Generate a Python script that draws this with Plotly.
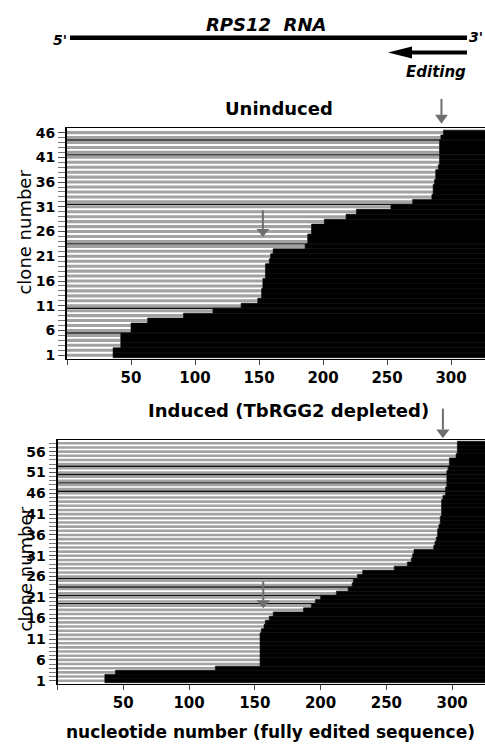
import plotly.graph_objects as go

# Uninduced clones (clone 1 at bottom): nucleotide where fully edited sequence begins
uninduced_clones = list(range(1, 47))
uninduced_edit = [36, 36, 42, 42, 42, 50, 50, 63, 91, 114,
                  136, 149, 152, 152, 153, 153, 155, 155, 155, 158,
                  159, 161, 186, 188, 188, 191, 191, 201, 218, 226,
                  253, 270, 285, 286, 286, 287, 288, 288, 290, 291,
                  291, 291, 291, 291, 292, 294]
uninduced_dark = [5.5, 10.5, 23.5, 31.5, 41.5, 44.5]

# Induced (TbRGG2 depleted) clones
induced_clones = list(range(1, 59))
induced_edit = [36, 36, 44, 120, 154, 154, 154, 154, 154, 154,
                154, 154, 155, 157, 158, 161, 164, 187, 193, 196,
                200, 212, 221, 224, 225, 228, 232, 256, 266, 269,
                270, 271, 286, 287, 288, 289, 289, 290, 291, 291,
                292, 292, 292, 292, 293, 295, 295, 296, 296, 296,
                296, 297, 298, 298, 303, 304, 304, 304]
induced_dark = [19.5, 21.5, 23.5, 25.5, 46.5, 48.5, 50.5, 52.5]

seq_end = 330
x_ticks = [0, 50, 100, 150, 200, 250, 300]
x_ticktext = ["", "50", "100", "150", "200", "250", "300"]
top_yticks = [1, 6, 11, 16, 21, 26, 31, 36, 41, 46]
bot_yticks = [1, 6, 11, 16, 21, 26, 31, 36, 41, 46, 51, 56]

W, H = 485, 750
def px(x):
    return x / W
def py(y):
    return 1 - y / H

GRAY = "#a2a2a2"
ARROW = "#6e6e6e"
FONT = "DejaVu Sans"

fig = go.Figure()

panels = [
    (uninduced_clones, uninduced_edit, "x", "y"),
    (induced_clones, induced_edit, "x2", "y2"),
]
for clones, edit, xa, ya in panels:
    fig.add_trace(go.Bar(orientation="h", y=clones, x=edit, base=0, width=0.62,
                         marker=dict(color=GRAY, line=dict(width=0)),
                         xaxis=xa, yaxis=ya, showlegend=False))
    fig.add_trace(go.Bar(orientation="h", y=clones, x=[seq_end - e for e in edit],
                         base=edit, width=1.0,
                         marker=dict(color="black", line=dict(color="black", width=0.6)),
                         xaxis=xa, yaxis=ya, showlegend=False))

shapes = []
for b in uninduced_dark:
    shapes.append(dict(type="line", xref="x domain", yref="y", x0=0, x1=1, y0=b, y1=b,
                       line=dict(color="#111", width=1.4)))
for b in induced_dark:
    shapes.append(dict(type="line", xref="x2 domain", yref="y2", x0=0, x1=1, y0=b, y1=b,
                       line=dict(color="#111", width=1.4)))

# header: RNA line and editing arrow
shapes.append(dict(type="line", xref="paper", yref="paper", x0=px(70), x1=px(467),
                   y0=py(35), y1=py(35), line=dict(color="black", width=4.5)))
shapes.append(dict(type="line", xref="paper", yref="paper", x0=px(408), x1=px(467),
                   y0=py(50), y1=py(50), line=dict(color="black", width=4)))
shapes.append(dict(type="path", xref="paper", yref="paper",
                   path=f"M {px(388)},{py(50)} L {px(412)},{py(44)} L {px(412)},{py(56)} Z",
                   fillcolor="black", line=dict(width=0)))

# gray arrows (shaft + head)
def arrow(xref, yref, x, y_top, y_head, y_tip, hw):
    shapes.append(dict(type="line", xref=xref, yref=yref, x0=x, x1=x, y0=y_top, y1=y_head,
                       line=dict(color=ARROW, width=2)))
    shapes.append(dict(type="path", xref=xref, yref=yref,
                       path=f"M {x - hw},{y_head} L {x + hw},{y_head} L {x},{y_tip} Z",
                       fillcolor=ARROW, line=dict(width=0)))

arrow("x", "paper", 292.5, py(97), py(113), py(122), 5)
arrow("x", "y", 153, 30.3, 26.5, 24.9, 5)
arrow("x2", "paper", 293, py(410), py(431), py(440), 5)
arrow("x2", "y2", 156.4, 24.9, 20.3, 18.4, 5)

ann = [
    dict(text="RPS12\u00a0\u00a0RNA", x=px(266), y=py(21.5),
         font=dict(size=18, family=FONT, weight="bold", style="italic")),
    dict(text="5'", x=px(60), y=py(37), font=dict(size=14, family=FONT, weight="bold", style="italic")),
    dict(text="3'", x=px(476), y=py(34), font=dict(size=14, family=FONT, weight="bold", style="italic")),
    dict(text="Editing", x=px(436), y=py(70), font=dict(size=15, family=FONT, weight="bold", style="italic")),
    dict(text="Uninduced", x=px(279), y=py(106.5), font=dict(size=18, family=FONT, weight="bold")),
    dict(text="Induced (TbRGG2 depleted)", x=px(288), y=py(412), font=dict(size=18, family=FONT, weight="bold")),
    dict(text="clone number", x=px(24.5), y=py(231.5), textangle=-90, font=dict(size=18, family=FONT)),
    dict(text="clone number", x=px(25), y=py(572.5), textangle=-90, font=dict(size=18, family=FONT)),
    dict(text="nucleotide number (fully edited sequence)", x=px(270), y=py(737),
         font=dict(size=17, family=FONT, weight="bold")),
]
for a in ann:
    a.update(xref="paper", yref="paper", showarrow=False, xanchor="center", yanchor="middle")
    a["font"]["color"] = "black"

tickfont = dict(size=14, family=FONT, weight="bold", color="black")
xaxis_common = dict(tickvals=x_ticks, ticktext=x_ticktext, showgrid=False, zeroline=False,
                    showline=True, linecolor="black", linewidth=1, mirror=True,
                    ticks="outside", ticklen=5, tickcolor="#444",
                    tickfont=dict(size=15, family=FONT, weight="bold", color="black"))

def yaxis_common(ticks, n):
    return dict(tickvals=ticks, showgrid=False, zeroline=False, showline=True,
                linecolor="black", linewidth=2, ticks="outside", ticklen=7,
                tickcolor="#555", tickfont=tickfont,
                minor=dict(tickmode="array", tickvals=list(range(1, n + 1)),
                           ticks="outside", ticklen=7, tickcolor="#777"))

fig.update_layout(
    width=W, height=H, autosize=False,
    margin=dict(l=0, r=0, t=0, b=0),
    paper_bgcolor="white", plot_bgcolor="white",
    barmode="overlay",
    xaxis=dict(domain=[px(67), 1], range=[0, 326.5], anchor="y", **xaxis_common),
    yaxis=dict(domain=[py(360), py(126)], range=[0.2, 47], anchor="x",
               **yaxis_common(top_yticks, 46)),
    xaxis2=dict(domain=[px(57.5), 1], range=[0, 325], anchor="y2", **xaxis_common),
    yaxis2=dict(domain=[py(688), py(441.7)], range=[0.29, 58.8], anchor="x2",
                **yaxis_common(bot_yticks, 58)),
    shapes=shapes,
    annotations=ann,
)

fig.write_html("out.html", config={"displayModeBar": False},
               post_script="document.body.style.margin='0';document.body.style.overflow='hidden';")
